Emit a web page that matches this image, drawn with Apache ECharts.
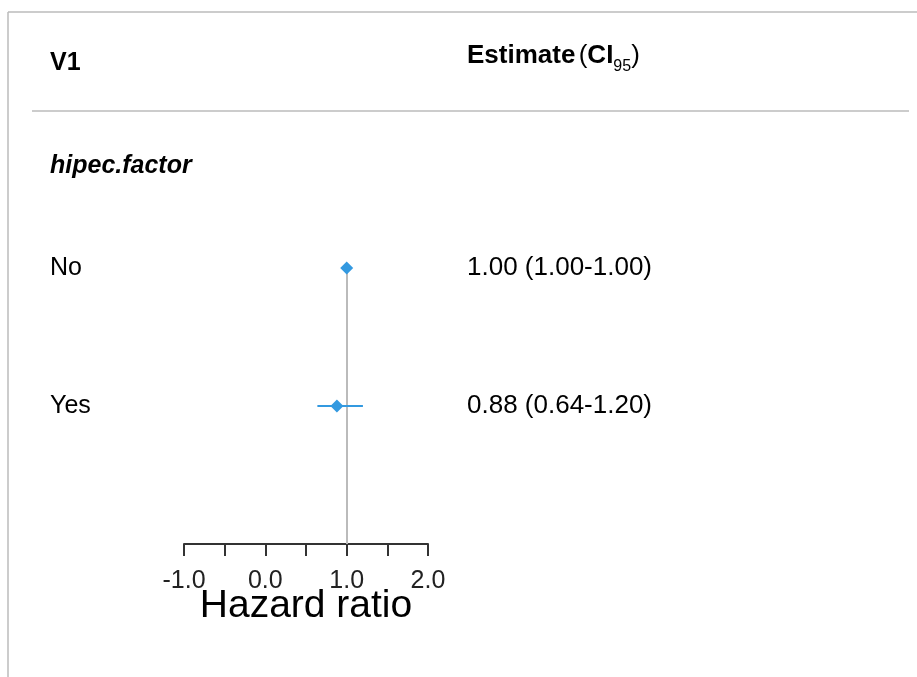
<!DOCTYPE html>
<html>
<head>
<meta charset="utf-8">
<script src="https://cdn.jsdelivr.net/npm/echarts@6/dist/echarts.min.js"></script>
<style>
  html, body { margin: 0; padding: 0; background: #fff; }
  #box { width: 917px; height: 677px; }
</style>
</head>
<body>
<div id="box"></div>
<script>
// data
var groupName = 'hipec.factor';
var rowLabels = ['No', 'Yes'];
var rowPos = [1, 2];
var estimates = [1.00, 0.88];
var ciLow = [1.00, 0.64];
var ciHigh = [1.00, 1.20];
var refValue = 1;
var xMin = -1, xMax = 2, xStep = 0.5;

var FONT = '"Liberation Sans", Arial, sans-serif';
var BLUE = '#3399e0';

var pointData = [], ciData = [], textData = [];
for (var i = 0; i < rowLabels.length; i++) {
    pointData.push([estimates[i], rowPos[i]]);
    ciData.push([ciLow[i], ciHigh[i], rowPos[i]]);
    textData.push([rowPos[i], rowLabels[i],
        estimates[i].toFixed(2) + ' (' + ciLow[i].toFixed(2) + '-' + ciHigh[i].toFixed(2) + ')']);
}

var myChart = echarts.init(document.getElementById('box'));
var option = {
    animation: false,
    backgroundColor: '#fff',
    grid: { left: 184, width: 244, top: 130, bottom: 133 },
    xAxis: {
        type: 'value',
        position: 'bottom',
        min: xMin,
        max: xMax,
        interval: xStep,
        splitLine: { show: false },
        axisLine: { show: true, onZero: false, lineStyle: { color: '#333', width: 2 } },
        axisTick: { show: true, length: 12, lineStyle: { color: '#333', width: 2 } },
        axisLabel: {
            margin: 25,
            fontSize: 25,
            fontFamily: FONT,
            color: '#222',
            showMinLabel: true,
            showMaxLabel: true,
            formatter: function (v) {
                return Math.abs(v - Math.round(v)) < 1e-9 ? v.toFixed(1) : '';
            }
        },
        name: 'Hazard ratio',
        nameLocation: 'middle',
        nameGap: 43,
        nameMoveOverlap: false,
        nameTextStyle: { fontSize: 39, fontFamily: FONT, color: '#000' }
    },
    yAxis: {
        type: 'value',
        min: 0,
        max: 3,
        inverse: true,
        show: false
    },
    graphic: [
        { type: 'line', shape: { x1: 8, y1: 12, x2: 917, y2: 12 }, style: { stroke: '#bbb', lineWidth: 1.5 } },
        { type: 'line', shape: { x1: 8, y1: 12, x2: 8, y2: 677 }, style: { stroke: '#bbb', lineWidth: 1.5 } },
        { type: 'line', shape: { x1: 32, y1: 111, x2: 909, y2: 111 }, style: { stroke: '#ccc', lineWidth: 2 } },
        { type: 'text', x: 50, y: 63, style: { text: 'V1', font: 'bold 25px ' + FONT, fill: '#000', verticalAlign: 'middle' } },
        {
            type: 'text', left: 467, top: 43,
            style: {
                text: '{b|Estimate} {n|(}{b|CI}{s|95}{n|)}',
                rich: {
                    b: { font: 'bold 26px ' + FONT, fill: '#000', verticalAlign: 'bottom' },
                    n: { font: '26px ' + FONT, fill: '#000', verticalAlign: 'bottom' },
                    s: { font: '16px ' + FONT, fill: '#000', verticalAlign: 'bottom', padding: [0, 0, -6, 0] }
                }
            }
        },
        { type: 'text', x: 50, y: 166, style: { text: groupName, font: 'italic bold 25px ' + FONT, fill: '#000', verticalAlign: 'middle' } }
    ],
    series: [
        {
            type: 'custom',
            silent: true,
            data: ciData,
            z: 3,
            renderItem: function (params, api) {
                var a = api.coord([api.value(0), api.value(2)]);
                var b = api.coord([api.value(1), api.value(2)]);
                return {
                    type: 'line',
                    shape: { x1: a[0], y1: a[1], x2: b[0], y2: b[1] },
                    style: { stroke: BLUE, lineWidth: 2 }
                };
            }
        },
        {
            type: 'scatter',
            symbol: 'diamond',
            symbolSize: 13,
            data: pointData,
            z: 4,
            itemStyle: { color: BLUE, opacity: 1 },
            markLine: {
                silent: true,
                symbol: 'none',
                z: 1,
                label: { show: false },
                lineStyle: { color: '#bbb', width: 2, type: 'solid' },
                data: [[{ coord: [refValue, rowPos[0]] }, { coord: [refValue, 3] }]]
            }
        },
        {
            type: 'custom',
            silent: true,
            data: textData,
            renderItem: function (params, api) {
                var y = api.coord([0, api.value(0)])[1];
                var d = textData[params.dataIndex];
                return {
                    type: 'group',
                    children: [
                        { type: 'text', x: 50, y: y, style: { text: d[1], font: '25px ' + FONT, fill: '#000', verticalAlign: 'middle' } },
                        { type: 'text', x: 467, y: y, style: { text: d[2], font: '26px ' + FONT, fill: '#000', verticalAlign: 'middle' } }
                    ]
                };
            }
        }
    ]
};
myChart.setOption(option);
</script>
</body>
</html>
